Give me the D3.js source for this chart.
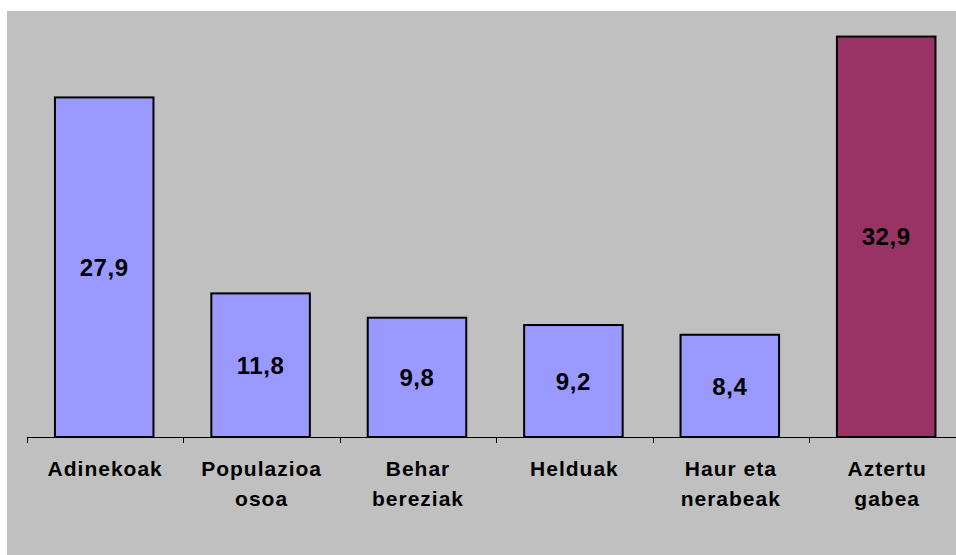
<!DOCTYPE html>
<html>
<head>
<meta charset="utf-8">
<script src="https://cdn.jsdelivr.net/npm/d3@7"></script>
<style>
  body { margin: 0; background: #fff; }
  svg { display: block; }
</style>
</head>
<body>
<div id="chart"></div>
<script>
// data
const categories = [["Adinekoak"], ["Populazioa", "osoa"], ["Behar", "bereziak"], ["Helduak"], ["Haur eta", "nerabeak"], ["Aztertu", "gabea"]];
const values = [27.9, 11.8, 9.8, 9.2, 8.4, 32.9];
const barColors = ["#9999FF", "#9999FF", "#9999FF", "#9999FF", "#9999FF", "#993366"];
const yMax = 35;

const chart = {
  width: 956,
  height: 555,
  plot: {left: 27, top: 11, bottom: 437, band: 156.4},
  draw: () => {
    const {width, height, plot} = chart;
    const svg = d3.select("#chart").append("svg")
      .attr("width", width)
      .attr("height", height);

    // gray chart area
    svg.append("rect")
      .attr("x", 7).attr("y", 11)
      .attr("width", width - 7).attr("height", height - 11)
      .attr("fill", "#C0C0C0");

    // bars sit slightly left of band centre, as in the original
    const x = d3.scaleBand()
      .domain(d3.range(values.length))
      .range([plot.left - 1, plot.left - 1 + plot.band * values.length])
      .paddingInner(0.37)
      .paddingOuter(0.185);

    const y = d3.scaleLinear()
      .domain([0, yMax])
      .range([plot.bottom, plot.top]);

    // bars
    svg.append("g")
      .selectAll("rect")
      .data(values)
      .join("rect")
        .attr("x", (d, i) => x(i))
        .attr("y", d => y(d))
        .attr("width", x.bandwidth())
        .attr("height", d => y(0) - y(d))
        .attr("fill", (d, i) => barColors[i])
        .attr("stroke", "#000")
        .attr("stroke-width", 2);

    // value labels in the middle of each bar
    svg.append("g")
      .selectAll("text")
      .data(values)
      .join("text")
        .attr("x", (d, i) => x(i) + x.bandwidth() / 2)
        .attr("y", d => (y(d) + y(0)) / 2)
        .attr("dy", "0.36em")
        .attr("text-anchor", "middle")
        .style("font-family", "'Liberation Sans', Arial, sans-serif")
        .style("font-weight", "bold")
        .style("font-size", "24px")
        .style("letter-spacing", "0.6px")
        .text(d => d.toFixed(1).replace(".", ","));

    // x axis: line with ticks at band edges
    const edges = d3.range(values.length + 1).map(i => plot.left + i * plot.band);
    const axis = svg.append("g").attr("stroke", "#000").attr("stroke-width", 1);
    axis.append("line")
      .attr("x1", edges[0]).attr("x2", edges[edges.length - 1])
      .attr("y1", plot.bottom + 0.5).attr("y2", plot.bottom + 0.5);
    axis.selectAll("line.tick")
      .data(edges)
      .join("line")
        .attr("class", "tick")
        .attr("x1", d => Math.round(d) + 0.5).attr("x2", d => Math.round(d) + 0.5)
        .attr("y1", plot.bottom).attr("y2", plot.bottom + 6);

    // category labels, one or two lines
    const labels = svg.append("g")
      .selectAll("text")
      .data(categories)
      .join("text")
        .attr("text-anchor", "middle")
        .style("font-family", "'Liberation Sans', Arial, sans-serif")
        .style("font-weight", "bold")
        .style("font-size", "21px")
        .style("letter-spacing", "1px")
        .attr("fill", "#000");
    labels.selectAll("tspan")
      .data((d, i) => d.map(t => ({t, i})))
      .join("tspan")
        .attr("x", d => x(d.i) + x.bandwidth() / 2 + 1)
        .attr("y", (d, j) => 476 + j * 30)
        .text(d => d.t);
  }
};

document.addEventListener("DOMContentLoaded", chart.draw);
</script>
</body>
</html>
